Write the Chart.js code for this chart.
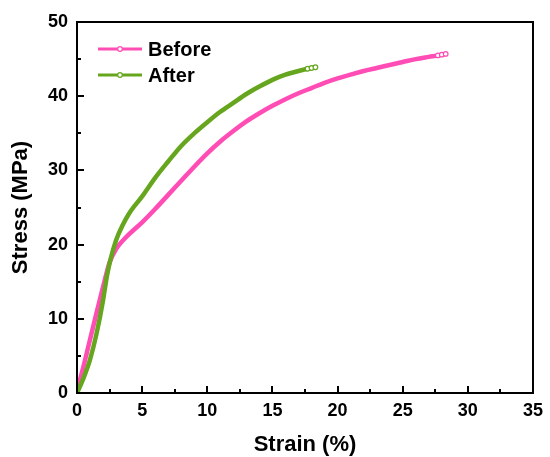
<!DOCTYPE html>
<html>
<head>
<meta charset="utf-8">
<script src="https://cdn.jsdelivr.net/npm/chart.js@4/dist/chart.umd.min.js"></script>
<style>
  html, body { margin: 0; padding: 0; background: #fff; }
  #wrap { width: 550px; height: 457px; }
</style>
</head>
<body>
<div id="wrap"><canvas id="stressStrain" width="550" height="457"></canvas></div>
<script>
// Tensile curves, before and after treatment
const strainBefore = [0, 0.5, 1, 1.5, 2, 2.5, 3, 3.5, 4, 5, 6, 7, 8, 9, 10, 11, 12, 13, 14, 15, 16, 17, 18, 19, 20, 21, 22, 23, 24, 25, 26, 27, 27.7, 28, 28.3];
const stressBefore = [0.3, 3.6, 7.2, 10.8, 14.3, 17.6, 19.4, 20.5, 21.4, 23.0, 24.8, 26.7, 28.6, 30.5, 32.3, 33.9, 35.3, 36.6, 37.7, 38.7, 39.6, 40.4, 41.1, 41.8, 42.4, 42.9, 43.4, 43.8, 44.2, 44.6, 45.0, 45.3, 45.5, 45.6, 45.7];

const strainAfter = [0, 0.5, 1, 1.5, 2, 2.3, 2.6, 3, 3.5, 4, 5, 6, 7, 8, 9, 10, 11, 12, 13, 14, 15, 16, 17, 17.7, 18, 18.3];
const stressAfter = [0, 2.0, 4.5, 8.0, 12.5, 15.8, 18.2, 20.6, 22.6, 24.2, 26.5, 29.0, 31.2, 33.3, 35.0, 36.5, 37.9, 39.1, 40.3, 41.3, 42.2, 42.9, 43.4, 43.7, 43.8, 43.9];

const xTicks = [0, 5, 10, 15, 20, 25, 30, 35];
const yTicks = [0, 10, 20, 30, 40, 50];

const pink = '#ff4db5';
const green = '#66a61e';
const fontFamily = '"Liberation Sans", Arial, sans-serif';

function toPoints(xs, ys) {
  return xs.map((x, i) => ({x: x, y: ys[i]}));
}

// hollow circles only on the last few samples
function endMarkers(ctx) {
  const n = ctx.dataset.data.length;
  return ctx.dataIndex >= n - 3 ? 2.3 : 0;
}

// frame + inward major/minor ticks
const frameTicks = {
  id: 'frameTicks',
  afterDraw(chart) {
    const {ctx, chartArea: a, scales} = chart;
    ctx.save();
    ctx.strokeStyle = '#000';
    ctx.lineWidth = 2;
    ctx.strokeRect(a.left, a.top, a.right - a.left, a.bottom - a.top);
    ctx.fillStyle = '#000';
    // x ticks every 2.5, long ones on the labelled values
    for (let i = 1; i < 14; i++) {
      const px = Math.round(scales.x.getPixelForValue(i * 2.5));
      const len = i % 2 === 0 ? 7 : 4;
      ctx.fillRect(px - 1, a.bottom - len, 2, len);
    }
    // y ticks every 5
    for (let i = 1; i < 10; i++) {
      const py = Math.round(scales.y.getPixelForValue(i * 5));
      const len = i % 2 === 0 ? 7 : 4;
      ctx.fillRect(a.left, py - 1, len, 2);
    }
    ctx.restore();
  }
};

// legend drawn inside the plot, line + open circle + label
const insideLegend = {
  id: 'insideLegend',
  afterDraw(chart) {
    const {ctx} = chart;
    ctx.save();
    chart.data.datasets.forEach((ds, i) => {
      const y = 49 + i * 26;
      ctx.strokeStyle = ds.borderColor;
      ctx.lineWidth = 3;
      ctx.beginPath();
      ctx.moveTo(98, y);
      ctx.lineTo(142, y);
      ctx.stroke();
      ctx.fillStyle = '#fff';
      ctx.lineWidth = 1.2;
      ctx.beginPath();
      ctx.arc(120, y, 2.3, 0, Math.PI * 2);
      ctx.fill();
      ctx.stroke();
      ctx.fillStyle = '#000';
      ctx.font = 'bold 20px ' + fontFamily;
      ctx.textBaseline = 'middle';
      ctx.fillText(ds.label, 148, y + 1);
    });
    ctx.restore();
  }
};

new Chart(document.getElementById('stressStrain').getContext('2d'), {
  type: 'line',
  data: {
    datasets: [{
      label: 'Before',
      data: toPoints(strainBefore, stressBefore),
      borderColor: pink,
      borderWidth: 4.5,
      pointRadius: endMarkers,
      pointBackgroundColor: '#fff',
      pointBorderColor: pink,
      pointBorderWidth: 1.2,
      cubicInterpolationMode: 'monotone',
      order: 2
    }, {
      label: 'After',
      data: toPoints(strainAfter, stressAfter),
      borderColor: green,
      borderWidth: 4.5,
      pointRadius: endMarkers,
      pointBackgroundColor: '#fff',
      pointBorderColor: green,
      pointBorderWidth: 1.2,
      cubicInterpolationMode: 'monotone',
      order: 1
    }]
  },
  options: {
    responsive: false,
    animation: false,
    layout: { padding: { top: 22, right: 13, left: 0, bottom: 0 } },
    plugins: {
      legend: { display: false },
      tooltip: { enabled: false }
    },
    scales: {
      x: {
        type: 'linear',
        min: 0,
        max: 35,
        afterFit: (s) => { s.height = 64; },
        afterBuildTicks: (s) => { s.ticks = xTicks.map(v => ({value: v})); },
        grid: { display: false, drawTicks: false },
        border: { display: false },
        ticks: {
          autoSkip: false,
          maxRotation: 0,
          padding: 7,
          color: '#000',
          font: { family: fontFamily, size: 18, weight: 'bold' }
        },
        title: {
          display: true,
          text: 'Strain (%)',
          color: '#000',
          padding: { top: 0, bottom: -1 },
          font: { family: fontFamily, size: 22, weight: 'bold' }
        }
      },
      y: {
        min: 0,
        max: 50,
        afterFit: (s) => { s.width = 77; },
        afterBuildTicks: (s) => { s.ticks = yTicks.map(v => ({value: v})); },
        grid: { display: false, drawTicks: false },
        border: { display: false },
        ticks: {
          padding: 9,
          color: '#000',
          font: { family: fontFamily, size: 18, weight: 'bold' }
        },
        title: {
          display: true,
          text: 'Stress (MPa)',
          color: '#000',
          padding: { top: 8, bottom: 0 },
          font: { family: fontFamily, size: 22, weight: 'bold' }
        }
      }
    }
  },
  plugins: [frameTicks, insideLegend]
});
</script>
</body>
</html>
